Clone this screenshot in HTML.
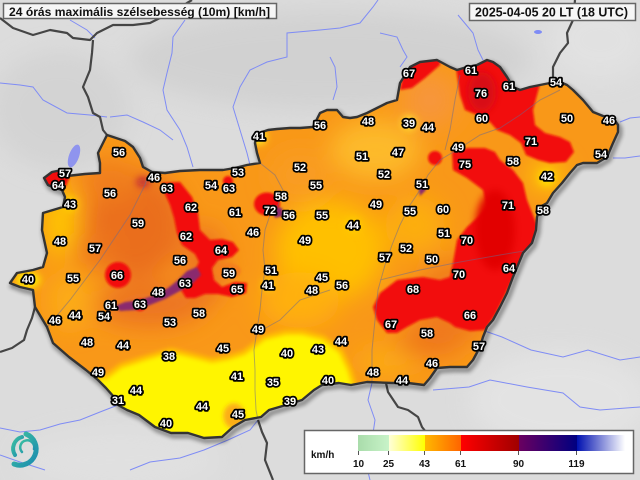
<!DOCTYPE html>
<html><head><meta charset="utf-8"><style>
html,body{margin:0;padding:0;background:#dcdcdc;}
svg{display:block;}
.l{font-family:"Liberation Sans",sans-serif;font-weight:bold;font-size:11px;fill:#fff;stroke:#000;stroke-width:3.6;paint-order:stroke;stroke-linejoin:round;text-anchor:middle;}
.t{font-family:"Liberation Sans",sans-serif;font-weight:bold;fill:#111;}
.tk{font-family:"Liberation Sans",sans-serif;font-weight:bold;font-size:10px;fill:#111;text-anchor:middle;}
</style></head><body>
<svg width="640" height="480" viewBox="0 0 640 480" xmlns="http://www.w3.org/2000/svg">
<defs>
<filter id="b12" x="-50%" y="-50%" width="200%" height="200%"><feGaussianBlur stdDeviation="12"/></filter>
<filter id="b8" x="-50%" y="-50%" width="200%" height="200%"><feGaussianBlur stdDeviation="8"/></filter>
<filter id="b4" x="-20%" y="-20%" width="140%" height="140%"><feGaussianBlur stdDeviation="4"/></filter>
<filter id="b2" x="-20%" y="-20%" width="140%" height="140%"><feGaussianBlur stdDeviation="2"/></filter>
<filter id="b1" x="-20%" y="-20%" width="140%" height="140%"><feGaussianBlur stdDeviation="1"/></filter>
<clipPath id="hu"><polygon id="hup" points="107,135 113,137 125,141 133,147 140,158 143,167 152,172 165,173 180,171 200,170 223,170 235,168 247,165 260,163 257,153 255,143 256,137 262,132 268,130 277,129 290,128 300,128 313,127 320,113 327,110 337,110 343,117 350,118 357,117 367,113 377,108 387,103 397,100 400,83 410,67 420,62 437,60 450,67 457,70 467,67 477,65 487,60 493,62 500,67 507,77 513,87 520,90 530,87 540,85 550,83 560,82 567,85 573,90 583,100 593,112 603,116 613,118 618,125 618,132 613,143 607,157 597,163 583,163 577,165 570,173 562,183 553,193 547,203 540,207 537,217 536,230 532,243 523,253 513,277 507,293 500,307 493,320 487,327 483,337 480,347 473,360 467,367 450,367 437,368 430,378 424,385 408,383 392,383 367,382 351,385 339,383 322,385 314,390 302,400 286,405 269,410 261,417 245,420 233,427 222,437 204,438 188,433 171,433 155,427 139,415 127,410 118,405 114,397 106,388 98,380 86,370 69,357 53,343 47,327 35,307 33,290 20,287 10,283 17,273 33,270 43,267 47,253 42,230 43,213 63,207 65,197 62,190 55,188 48,185 44,178 52,172 62,170 67,176 85,174 100,173 100,163 98,153 103,143"/></clipPath>
<linearGradient id="cb" x1="0" x2="1" y1="0" y2="0">
<stop offset="0" stop-color="#a9dcab"/><stop offset="0.116" stop-color="#c8f3c8"/>
<stop offset="0.116" stop-color="#ffffd8"/><stop offset="0.251" stop-color="#ffff00"/>
<stop offset="0.251" stop-color="#ffb800"/><stop offset="0.386" stop-color="#ff6400"/>
<stop offset="0.386" stop-color="#ff0000"/><stop offset="0.603" stop-color="#a00000"/>
<stop offset="0.603" stop-color="#6a0060"/><stop offset="0.82" stop-color="#000080"/>
<stop offset="0.82" stop-color="#0010b0"/><stop offset="1" stop-color="#ffffff"/>
</linearGradient>
<linearGradient id="lg" x1="0" x2="1" y1="0" y2="1"><stop offset="0" stop-color="#3cc0a0"/><stop offset="1" stop-color="#1c8cb0"/></linearGradient>
</defs>

<!-- background texture -->
<rect width="640" height="480" fill="#dcdcdc"/>
<g filter="url(#b12)" opacity="0.7">
<ellipse cx="330" cy="60" rx="200" ry="50" fill="#cdcdcd"/>
<ellipse cx="60" cy="110" rx="70" ry="60" fill="#d0d0d0"/>
<ellipse cx="560" cy="400" rx="90" ry="50" fill="#e6e6e6"/>
<ellipse cx="120" cy="460" rx="100" ry="30" fill="#e2e2e2"/>
<ellipse cx="600" cy="40" rx="50" ry="40" fill="#e4e4e4"/>
</g>

<!-- outside rivers -->
<g fill="none" stroke="#7f8cf5" stroke-width="1">
<polyline points="0,83 20,85 33,87 43,100 67,113 90,115 107,117"/>
<polyline points="110,117 127,115 143,122 160,130 173,140"/>
<polyline points="185,20 173,37 172,53 167,73 163,90 167,110 180,130 187,147 193,167"/>
<polyline points="250,165 247,153 240,130 233,107 240,87 250,70 267,62 287,57 287,33 320,30 340,28 360,23 373,7 378,0"/>
<polyline points="380,33 397,37 403,50 407,57 400,67"/>
<polyline points="330,57 335,67 337,87 333,100"/>
<polyline points="458,15 473,33 478,50 483,60"/>
<polyline points="620,122 630,118 640,117"/>
<polyline points="613,158 625,158 640,156"/>
<polyline points="482,330 502,337 531,350 563,357 588,350 620,360 640,357"/>
<polyline points="433,390 469,387 490,380 527,387 563,393 580,407 600,410 640,407"/>
<polyline points="372,383 368,400 375,420 372,440 365,460 370,480"/>
<polyline points="258,420 250,430 228,440 204,450 180,458 150,462 130,470"/>
<polyline points="118,405 100,412 80,420 60,424 40,430 20,432 0,428"/>
<polyline points="0,455 20,462 45,470"/>
<polyline points="70,20 87,30 95,38"/>
</g>
<ellipse cx="74" cy="156" rx="5" ry="12" transform="rotate(20 74 156)" fill="#8f94ee"/>
<ellipse cx="538" cy="32" rx="4" ry="2" fill="#7f8cf5"/>

<!-- other country borders -->
<g fill="none" stroke="#454545" stroke-width="2.2" stroke-linejoin="round">
<polyline points="0,18 13,28 33,35 50,30 67,33 73,38 90,40 97,33 113,25 133,25 150,23 160,18 173,12 187,3 192,0"/>
<polyline points="93,40 92,53 90,70 83,87 88,97 93,113 100,117 103,130 107,135"/>
<polyline points="575,0 573,20 567,33 568,43 560,53 553,67 553,80 556,82"/>
<polyline points="0,352 12,348 24,340 27,330 32,318 35,307"/>
<polyline points="258,420 262,432 267,443 265,460 269,470 273,480"/>
<polyline points="386,383 388,392 398,407 408,410 418,417 422,427 426,432"/>
</g>

<!-- shadow of Hungary -->
<use href="#hup" fill="none" stroke="#000" stroke-width="4" opacity="0.45" transform="translate(2,3)" filter="url(#b2)"/>

<!-- colour field -->
<g clip-path="url(#hu)">
<rect width="640" height="480" fill="#f99818"/>
<g filter="url(#b12)">
<ellipse cx="135" cy="225" rx="50" ry="55" fill="#ea6e1e"/>
<ellipse cx="150" cy="305" rx="55" ry="22" fill="#ec7420"/>
<ellipse cx="205" cy="265" rx="20" ry="40" fill="#ec7420"/>
<ellipse cx="110" cy="180" rx="30" ry="22" fill="#f07e1e"/>
<ellipse cx="95" cy="250" rx="20" ry="20" fill="#ee781e"/>
<ellipse cx="430" cy="342" rx="35" ry="14" fill="#ee741c"/>
<ellipse cx="455" cy="300" rx="40" ry="40" fill="#f07c1a"/>
<ellipse cx="330" cy="250" rx="55" ry="50" fill="#ffc000"/>
<ellipse cx="300" cy="300" rx="40" ry="28" fill="#ffb00c"/>
<ellipse cx="375" cy="150" rx="45" ry="30" fill="#fdba2c"/>
<ellipse cx="60" cy="222" rx="15" ry="35" fill="#ffc800"/>
<ellipse cx="70" cy="300" rx="22" ry="28" fill="#fcac18"/>
<ellipse cx="415" cy="225" rx="30" ry="28" fill="#fdae10"/>
<ellipse cx="385" cy="362" rx="30" ry="14" fill="#fcac14"/>
<ellipse cx="547" cy="176" rx="18" ry="15" fill="#ffc800"/>
<ellipse cx="430" cy="100" rx="28" ry="28" fill="#f7963a"/>
<ellipse cx="300" cy="175" rx="30" ry="25" fill="#f99c20"/>
</g>
<g filter="url(#b4)">
<ellipse cx="28" cy="280" rx="12" ry="8" fill="#fff200"/>
<circle cx="409" cy="123" r="7" fill="#ffe830"/>
<circle cx="259" cy="137" r="7" fill="#ffff20"/>
<circle cx="268" cy="285" r="5" fill="#ffe800"/>
<circle cx="547" cy="178" r="8" fill="#ffe000"/>
<circle cx="70" cy="204" r="7" fill="#ffd800"/>
<circle cx="353" cy="225" r="8" fill="#ffcc00"/>
</g>
<!-- yellow south -->
<g filter="url(#b2)">
<polygon points="100,378 106,380 122,368 147,360 171,353 192,358 212,363 229,360 245,355 265,340 286,335 302,335 322,340 339,353 347,370 351,383 356,400 356,445 95,445" fill="#ffc400" stroke="#ffc000" stroke-width="10" stroke-linejoin="round"/>
<polygon points="100,378 106,380 122,368 147,360 171,353 192,358 212,363 229,360 245,355 265,340 286,335 302,335 322,340 339,353 347,370 351,383 356,400 356,445 95,445" fill="#fff500"/>
<ellipse cx="234" cy="416" rx="11" ry="13" fill="#fcae12"/>
</g>
<!-- reds -->
<g filter="url(#b1)" fill="#f20a0a">
<polygon points="162,183 180,182 192,197 198,213 200,230 210,240 222,239 233,242 239,250 232,257 218,260 212,268 214,280 222,287 235,282 247,283 246,293 232,297 218,294 205,294 195,298 186,298 181,290 185,280 194,272 199,262 195,254 182,245 177,233 174,218 170,205 165,194"/>
<ellipse cx="228" cy="271" rx="13" ry="8" fill="#f5801c"/>
<circle cx="118" cy="275" r="13"/>
<ellipse cx="267" cy="204" rx="13" ry="11.5"/>
<circle cx="140" cy="305" r="6"/>
<circle cx="228" cy="181" r="5"/>
<circle cx="435" cy="158" r="7"/>
<polygon points="40,175 52,168 64,167 70,176 66,186 58,190 48,188"/>
<polygon points="400,90 405,65 440,58 440,65 425,78 412,88"/>
<polygon points="455,58 495,58 512,82 530,86 540,84 537,95 533,110 535,125 545,133 560,137 570,142 574,152 566,162 550,163 538,160 526,155 521,143 510,135 497,130 490,122 478,115 465,110 460,95 457,75"/>
<polygon points="452,152 468,148 485,148 495,152 500,160 513,170 523,183 527,200 537,225 533,245 522,262 513,278 505,295 495,315 485,330 470,331 455,327 450,323 437,317 420,320 407,327 397,333 387,333 377,320 373,307 380,293 397,280 423,277 440,280 450,277 453,263 457,240 467,227 477,218 487,207 483,190 467,178 453,170"/>
</g>
<g filter="url(#b4)">
<ellipse cx="482" cy="92" rx="14" ry="20" fill="#d80814"/>
<ellipse cx="495" cy="230" rx="20" ry="40" fill="#e20404"/>
<ellipse cx="143" cy="182" rx="6" ry="4" fill="#b01040"/>
</g>
<!-- Balaton (purple) -->
<g filter="url(#b1)" fill="#8a2c6e">
<polygon points="115,306 125,302 140,300 155,295 168,288 178,280 187,271 197,267 201,275 192,284 180,291 165,299 150,305 135,310 120,311"/>
<polygon points="270,206 282,208 284,216 275,218"/>
<polygon points="418,185 424,180 426,190 420,196"/>
</g>
<!-- inner rivers -->
<g fill="none" stroke="#6a6a90" stroke-width="1" opacity="0.5">
<polyline points="260,163 275,175 283,190 278,205 270,215 265,230 263,250 265,270 262,290 260,310 257,330 254,350 255,370 255,390 256,410 258,420"/>
<polyline points="560,90 540,100 520,115 500,128 480,135 460,148 440,160 428,175 420,190 410,205 400,225 392,245 385,265 378,290 375,320 372,350 372,383"/>
<polyline points="45,330 70,300 100,260 130,215 145,185 148,175"/>
<polyline points="380,280 420,270 460,262 500,255 530,250"/>
<polyline points="460,75 455,100 450,130 445,150"/>
<polyline points="330,290 300,300 280,320 262,330"/>
</g>
</g>
<!-- Hungary border -->
<use href="#hup" fill="none" stroke="#333" stroke-width="2.4" stroke-linejoin="round"/>

<!-- labels -->
<g class="l">
<text x="119" y="156">56</text><text x="65" y="177">57</text><text x="58" y="189">64</text>
<text x="154" y="181">46</text><text x="167" y="192">63</text><text x="211" y="189">54</text>
<text x="229" y="192">63</text><text x="238" y="176">53</text><text x="259" y="140">41</text>
<text x="320" y="129">56</text><text x="368" y="125">48</text><text x="409" y="127">39</text>
<text x="428" y="131">44</text><text x="409" y="77">67</text><text x="471" y="74">61</text>
<text x="481" y="97">76</text><text x="509" y="90">61</text><text x="556" y="86">54</text>
<text x="482" y="122">60</text><text x="567" y="122">50</text><text x="609" y="124">46</text>
<text x="531" y="145">71</text><text x="601" y="158">54</text><text x="458" y="151">49</text>
<text x="465" y="168">75</text><text x="513" y="165">58</text><text x="547" y="180">42</text>
<text x="362" y="160">51</text><text x="398" y="156">47</text><text x="300" y="171">52</text>
<text x="384" y="178">52</text><text x="422" y="188">51</text><text x="316" y="189">55</text>
<text x="110" y="197">56</text><text x="70" y="208">43</text><text x="191" y="211">62</text>
<text x="235" y="216">61</text><text x="281" y="200">58</text><text x="270" y="214">72</text>
<text x="289" y="219">56</text><text x="322" y="219">55</text><text x="376" y="208">49</text>
<text x="410" y="215">55</text><text x="443" y="213">60</text><text x="508" y="209">71</text>
<text x="543" y="214">58</text><text x="138" y="227">59</text><text x="186" y="240">62</text>
<text x="353" y="229">44</text><text x="253" y="236">46</text><text x="305" y="244">49</text>
<text x="444" y="237">51</text><text x="467" y="244">70</text><text x="60" y="245">48</text>
<text x="95" y="252">57</text><text x="221" y="254">64</text><text x="406" y="252">52</text>
<text x="385" y="261">57</text><text x="432" y="263">50</text><text x="180" y="264">56</text>
<text x="271" y="274">51</text><text x="322" y="281">45</text><text x="268" y="289">41</text>
<text x="229" y="277">59</text><text x="117" y="279">66</text><text x="459" y="278">70</text>
<text x="509" y="272">64</text><text x="28" y="283">40</text><text x="73" y="282">55</text>
<text x="185" y="287">63</text><text x="237" y="293">65</text><text x="312" y="294">48</text>
<text x="342" y="289">56</text><text x="413" y="293">68</text><text x="111" y="309">61</text>
<text x="104" y="320">54</text><text x="140" y="308">63</text><text x="158" y="296">48</text>
<text x="170" y="326">53</text><text x="199" y="317">58</text><text x="55" y="324">46</text>
<text x="75" y="319">44</text><text x="87" y="346">48</text><text x="123" y="349">44</text>
<text x="258" y="333">49</text><text x="391" y="328">67</text><text x="427" y="337">58</text>
<text x="470" y="319">66</text><text x="223" y="352">45</text><text x="169" y="360">38</text>
<text x="287" y="357">40</text><text x="318" y="353">43</text><text x="341" y="345">44</text>
<text x="479" y="350">57</text><text x="432" y="367">46</text><text x="98" y="376">49</text>
<text x="136" y="394">44</text><text x="237" y="380">41</text><text x="273" y="386">35</text>
<text x="328" y="384">40</text><text x="373" y="376">48</text><text x="402" y="384">44</text>
<text x="118" y="404">31</text><text x="202" y="410">44</text><text x="290" y="405">39</text>
<text x="238" y="418">45</text><text x="166" y="427">40</text>
</g>

<!-- title boxes -->
<rect x="3.5" y="3.5" width="273" height="15" fill="#f6f6f6" stroke="#666" stroke-width="1.5"/>
<text class="t" x="9" y="16" font-size="12" textLength="261" lengthAdjust="spacingAndGlyphs">24 órás maximális szélsebesség (10m) [km/h]</text>
<rect x="469.5" y="3.5" width="166" height="17" fill="#f6f6f6" stroke="#666" stroke-width="1.5"/>
<text class="t" x="475" y="16.7" font-size="13" textLength="153" lengthAdjust="spacingAndGlyphs">2025-04-05 20 LT (18 UTC)</text>

<!-- legend -->
<rect x="304.5" y="430.5" width="329" height="43" fill="#ffffff" stroke="#666" stroke-width="1.5"/>
<rect x="358" y="435" width="267" height="16" fill="url(#cb)"/>
<g stroke="#555" stroke-width="1">
<line x1="358.5" y1="451" x2="358.5" y2="455"/><line x1="388.5" y1="451" x2="388.5" y2="455"/>
<line x1="424.5" y1="451" x2="424.5" y2="455"/><line x1="460.5" y1="451" x2="460.5" y2="455"/>
<line x1="518.5" y1="451" x2="518.5" y2="455"/><line x1="576.5" y1="451" x2="576.5" y2="455"/>
</g>
<text class="t" x="311" y="458" font-size="10">km/h</text>
<g class="tk">
<text x="358.5" y="467">10</text><text x="388.5" y="467">25</text><text x="424.5" y="467">43</text>
<text x="460.5" y="467">61</text><text x="518.5" y="467">90</text><text x="576.5" y="467">119</text>
</g>

<!-- logo -->
<g fill="none" stroke="url(#lg)" stroke-linecap="round">
<path d="M 26,434 A 16 16 0 1 1 14,464" stroke-width="5"/>
<path d="M 15,455 A 12 12 0 0 1 22,437" stroke-width="4"/>
<path d="M 22,452 A 7 7 0 1 1 34,449" stroke-width="2.5"/>
</g>
</svg>
</body></html>
